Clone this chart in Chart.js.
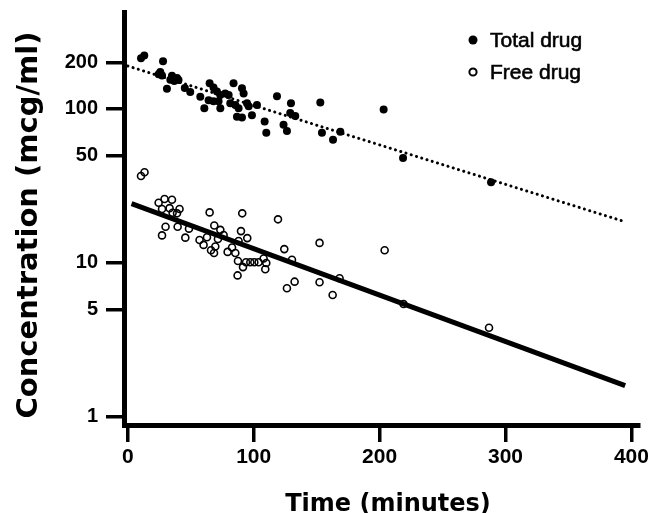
<!DOCTYPE html>
<html>
<head>
<meta charset="utf-8">
<script src="https://cdn.jsdelivr.net/npm/chart.js@4.4.1/dist/chart.umd.min.js"></script>
<style>
  html, body { margin: 0; padding: 0; background: #fff; }
  #wrap { width: 652px; height: 513px; }
</style>
</head>
<body>
<div id="wrap"><canvas id="chart" width="652" height="513"></canvas></div>
<script>
/* values: time (min) vs concentration (mcg/ml) */
const totalTime = [10.5, 13.1, 28, 25.8, 27.2, 24.5, 35.1, 39.1, 33.8, 36.9,
  40.3, 31.1, 45.3, 49.6, 57.6, 60.8, 65, 68.1, 70.8, 73.5,
  77.4, 80.1, 64.2, 68.1, 72.1, 73.5, 81.4, 85.4, 88, 86.7,
  90.7, 84, 90.7, 92, 94.7, 96, 98.6, 102.6, 108.7, 110,
  118.5, 123.7, 126.4, 129.6, 129, 133, 152.9, 203.2, 154.2, 163,
  168.8, 218.6, 288.5];
const totalConc = [213, 222, 204, 174, 165, 168, 164, 159, 155, 152,
  154, 135, 137, 129, 120, 101, 147, 138, 130, 123,
  126, 123, 114, 112, 112, 101, 109, 106, 101, 89,
  88, 147, 136, 126, 109, 104, 91, 106, 83, 70,
  121, 79, 72, 109, 94, 90, 110, 99, 70, 63,
  71, 48, 33.4];

const freeTime = [10.5, 13.3, 24.5, 29.2, 35.1, 27.2, 33.2, 35.6, 39.1, 41.1,
  30, 27.2, 39.6, 45.7, 48.6, 65, 68.7, 73.5, 76.1, 71.6,
  62.9, 57, 60.2, 66.1, 69.5, 68.5, 79.3, 82.8, 85.4, 88,
  89.9, 90.9, 94.9, 87.5, 91.5, 87.2, 93.9, 97.3, 100.5, 103.9,
  107.9, 110, 109.2, 119.3, 124.3, 126.4, 130.4, 132.5, 152.3, 152.3,
  162.7, 168.2, 204, 219, 286.9];
const freeConc = [36.7, 38.8, 24.6, 26.0, 25.7, 22.4, 22.7, 21.2, 21.0, 22.4,
  17.2, 15.1, 17.2, 14.6, 16.7, 21.3, 17.5, 16.4, 15.2, 14.3,
  14.7, 14.1, 13.1, 12.1, 12.8, 11.6, 11.8, 12.6, 11.6, 13.9,
  16.1, 21.0, 14.5, 10.3, 9.4, 8.3, 10.1, 10.1, 10.1, 10.1,
  10.7, 10.0, 9.1, 19.2, 12.3, 6.85, 10.5, 7.56, 13.5, 7.5,
  6.2, 7.95, 12.1, 5.42, 3.8];

// fitted decay lines (end points)
const totalFitTime = [0, 395];
const totalFitConc = [190, 18.5];
const freeFitTime  = [3, 395];
const freeFitConc  = [24.3, 1.6];

const xTicks = [0, 100, 200, 300, 400];
const yTicks = [1, 5, 10, 50, 100, 200];
const seriesNames = ['Total drug', 'Free drug'];
const xTitle = 'Time (minutes)';
const yTitle = 'Concentration (mcg/ml)';

const pts = (xs, ys) => xs.map((x, i) => ({ x, y: ys[i] }));

/* axis titles + legend, drawn on the canvas */
const textPlugin = {
  id: 'figText',
  afterDraw(chart) {
    const ctx = chart.ctx;
    ctx.save();
    ctx.fillStyle = '#000';
    ctx.textAlign = 'center';
    ctx.textBaseline = 'alphabetic';
    ctx.font = 'bold 24px "DejaVu Sans"';
    ctx.fillText(xTitle, 388, 511);
    ctx.translate(37, 225);
    ctx.rotate(-Math.PI / 2);
    ctx.font = 'bold 29px "DejaVu Sans"';
    ctx.fillText(yTitle, 0, 0);
    ctx.restore();

    // legend
    ctx.save();
    ctx.font = '21px "Liberation Sans"';
    ctx.textAlign = 'left';
    ctx.textBaseline = 'middle';
    ctx.strokeStyle = '#000';
    chart.data.datasets.filter(d => seriesNames.includes(d.label)).forEach((d, i) => {
      const y = 40 + i * 32;
      ctx.beginPath();
      ctx.arc(473, y, d.label === 'Total drug' ? 4.5 : 3.6, 0, Math.PI * 2);
      if (d.label === 'Total drug') { ctx.fillStyle = '#000'; ctx.fill(); }
      else { ctx.lineWidth = 2; ctx.stroke(); }
      ctx.fillStyle = '#000';
      ctx.lineWidth = 0.6;
      ctx.fillText(d.label, 490, y + 1);
      ctx.strokeText(d.label, 490, y + 1);
    });
    ctx.restore();
  }
};

new Chart(document.getElementById('chart'), {
  type: 'scatter',
  data: {
    datasets: [
      {
        label: 'Total drug',
        data: pts(totalTime, totalConc),
        pointRadius: 4, pointHoverRadius: 4,
        backgroundColor: '#000', borderColor: '#000', borderWidth: 0,
        order: 2
      },
      {
        label: 'Free drug',
        data: pts(freeTime, freeConc),
        pointRadius: 3.5, pointHoverRadius: 3.5,
        backgroundColor: 'rgba(0,0,0,0)', borderColor: '#000', borderWidth: 1.6,
        order: 2
      },
      {
        label: 'total fit',
        data: pts(totalFitTime, totalFitConc),
        showLine: true, pointRadius: 0,
        borderColor: '#000', borderWidth: 3,
        borderDash: [0.1, 5.4], borderCapStyle: 'round',
        order: 1
      },
      {
        label: 'free fit',
        data: pts(freeFitTime, freeFitConc),
        showLine: true, pointRadius: 0,
        borderColor: '#000', borderWidth: 5,
        order: 1
      }
    ]
  },
  options: {
    responsive: false,
    animation: false,
    layout: { padding: { left: 0, top: 12, right: 13, bottom: 0 } },
    plugins: { legend: { display: false }, tooltip: { enabled: false } },
    scales: {
      x: {
        type: 'linear', position: 'bottom',
        min: -3, max: 406, bounds: 'data',
        afterBuildTicks: s => { s.ticks = xTicks.map(v => ({ value: v })); },
        afterFit: s => { s.height = 88; s.paddingLeft = 0; s.paddingRight = 0; },
        border: { display: true, color: '#000', width: 5 },
        grid: { drawOnChartArea: false, drawTicks: true, tickLength: 17, lineWidth: 3.5, color: '#000' },
        ticks: {
          color: '#000', padding: 3, maxRotation: 0,
          font: { family: '"Liberation Sans"', size: 21, weight: 'bold' },
          callback: v => String(v)
        }
      },
      y: {
        type: 'logarithmic', position: 'left',
        min: 0.887, max: 426,
        afterBuildTicks: s => { s.ticks = yTicks.map(v => ({ value: v })); },
        afterFit: s => { s.width = 124; s.paddingTop = 0; s.paddingBottom = 0; },
        border: { display: true, color: '#000', width: 5 },
        grid: { drawOnChartArea: false, drawTicks: true, tickLength: 18, lineWidth: 3.5, color: '#000' },
        ticks: {
          color: '#000', padding: 8,
          font: { family: '"Liberation Sans"', size: 20, weight: 'bold' },
          callback: v => String(v)
        }
      }
    }
  },
  plugins: [textPlugin]
});
</script>
</body>
</html>
